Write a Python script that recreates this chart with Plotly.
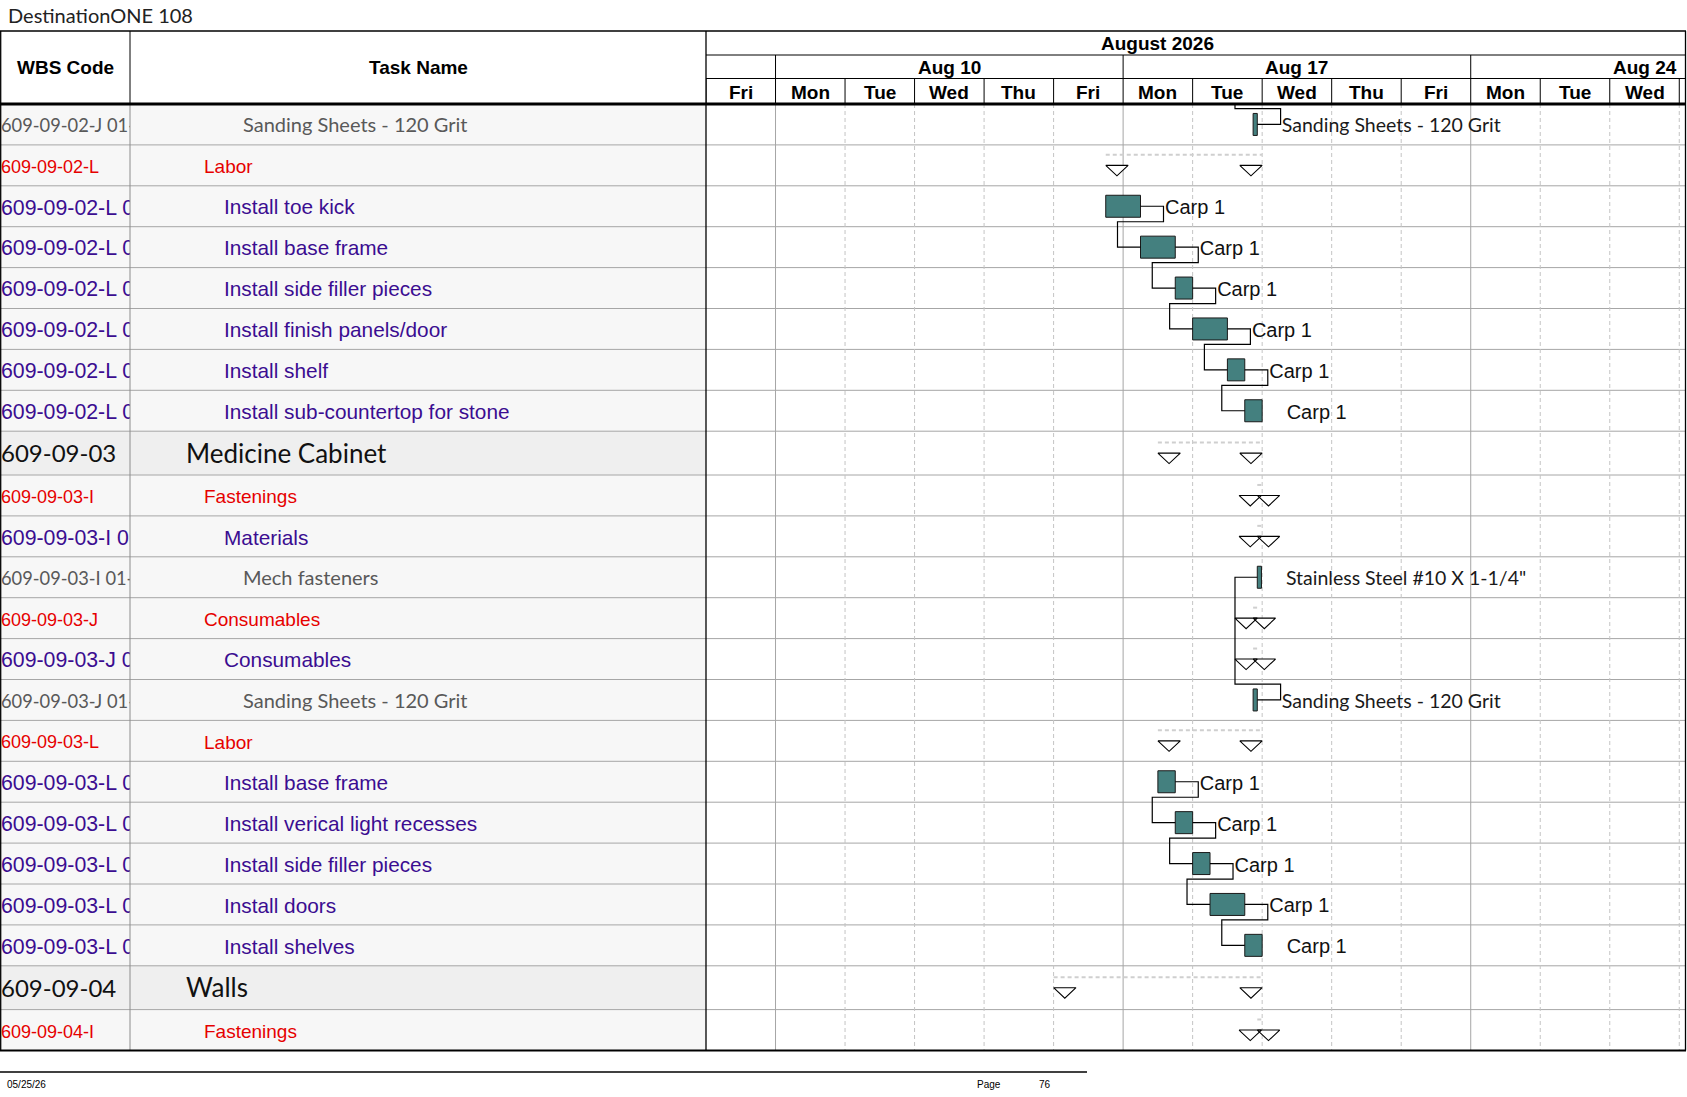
import plotly.graph_objects as go

# ---------------- data ----------------
title_text = "DestinationONE 108"
header_wbs = "WBS Code"
header_task = "Task Name"
month_label = "August 2026"
week_labels = ["Aug 10", "Aug 17", "Aug 24"]
week_start_idx = [1, 6, 11]
day_labels = ["Fri", "Mon", "Tue", "Wed", "Thu", "Fri", "Mon", "Tue", "Wed", "Thu",
              "Fri", "Mon", "Tue", "Wed"]
footer_date = "05/25/26"
footer_page_label = "Page"
footer_page_no = "76"

wbs_codes = [
    "609-09-02-J 01-01", "609-09-02-L", "609-09-02-L 01", "609-09-02-L 02",
    "609-09-02-L 03", "609-09-02-L 04", "609-09-02-L 05", "609-09-02-L 06",
    "609-09-03", "609-09-03-I", "609-09-03-I 01", "609-09-03-I 01-01",
    "609-09-03-J", "609-09-03-J 01", "609-09-03-J 01-01", "609-09-03-L",
    "609-09-03-L 01", "609-09-03-L 02", "609-09-03-L 03", "609-09-03-L 04",
    "609-09-03-L 05", "609-09-04", "609-09-04-I",
]
task_names = [
    "Sanding Sheets - 120 Grit", "Labor", "Install toe kick", "Install base frame",
    "Install side filler pieces", "Install finish panels/door", "Install shelf",
    "Install sub-countertop for stone", "Medicine Cabinet", "Fastenings", "Materials",
    "Mech fasteners", "Consumables", "Consumables", "Sanding Sheets - 120 Grit",
    "Labor", "Install base frame", "Install verical light recesses",
    "Install side filler pieces", "Install doors", "Install shelves", "Walls",
    "Fastenings",
]
row_levels = [4, 2, 3, 3, 3, 3, 3, 3, 1, 2, 3, 4, 2, 3, 4, 2, 3, 3, 3, 3, 3, 1, 2]
row_kind = ["task", "sum", "task", "task", "task", "task", "task", "task",
            "sum", "sum", "sum", "task", "sum", "sum", "task", "sum",
            "task", "task", "task", "task", "task", "sum", "sum"]
# working-day index: 0 = Fri Aug 7, 1 = Mon Aug 10, ...
start_day = [7.87, 5.75, 5.75, 6.25, 6.75, 7.0, 7.5, 7.75,
             6.5, 7.93, 7.93, 7.93, 7.87, 7.87, 7.87, 6.5,
             6.5, 6.75, 7.0, 7.25, 7.75, 5.0, 7.93]
end_day = [7.93, 8.0, 6.25, 6.75, 7.0, 7.5, 7.75, 8.0,
           8.0, 7.99, 7.99, 7.99, 7.93, 7.93, 7.93, 8.0,
           6.75, 7.0, 7.25, 7.75, 8.0, 8.0, 7.99]
bar_labels = ["Sanding Sheets - 120 Grit", "", "Carp 1", "Carp 1", "Carp 1", "Carp 1",
              "Carp 1", "Carp 1", "", "", "", "Stainless Steel #10 X 1-1/4\"", "", "",
              "Sanding Sheets - 120 Grit", "", "Carp 1", "Carp 1", "Carp 1", "Carp 1",
              "Carp 1", "", ""]
fs_links = [(2, 3), (3, 4), (4, 5), (5, 6), (6, 7), (16, 17), (17, 18), (18, 19), (19, 20)]
sf_links = [(-1, 0), (11, 14)]          # -1 = predecessor on previous page
offpage_pred_start = 7.93

# ---------------- style / geometry ----------------
W, H = 1687, 1097
X_WBS_END, X_CHART0, X_CHART1 = 130, 706, 1686
DAY_PX = 69.52
Y_TOP, Y_WEEK, Y_DAY, Y_BODY = 31, 55, 78.5, 104
ROW_H, ROW_H_SUM = 40.9, 43.8
BAR_H = 22
TRI_HW, TRI_H = 11.2, 10.5
LINK_OUT, LINK_DROP, SF_DROP = 23.0, 15.5, 4.6
LABEL_GAP = 24.5
TEXT_DY = 3.0

ARIAL = "Liberation Sans, Arial, sans-serif"
CAL = "Lato, sans-serif"
TEAL = "#44807f"
PURPLE = "#3b0d91"
RED = "#e60000"
GRAY_TXT = "#595959"
GRID = "#a6a6a6"
DASH_GRID = "#c4c4c4"

level_style = {
    1: dict(cfont=CAL, csize=24, nfont=CAL, nsize=26, color="#111111", indent=186, bg="#efefef"),
    2: dict(cfont=ARIAL, csize=18, nfont=ARIAL, nsize=19, color=RED, indent=204, bg="#f7f7f7"),
    3: dict(cfont=ARIAL, csize=21.3, nfont=ARIAL, nsize=20.8, color=PURPLE, indent=224, bg="#f7f7f7"),
    4: dict(cfont=CAL, csize=18.3, nfont=CAL, nsize=20, color=GRAY_TXT, indent=243, bg="#f7f7f7"),
}

row_h = [ROW_H_SUM if lv == 1 else ROW_H for lv in row_levels]
row_top = []
acc = 0.0
for h in row_h:
    row_top.append(acc)
    acc += h
body_h = acc
row_c = [t + h / 2 for t, h in zip(row_top, row_h)]
x_max = (X_CHART1 - X_CHART0) / DAY_PX


def dpx(p):
    return p / DAY_PX


def py(p):  # figure pixel y -> paper
    return 1 - p / H


def pxp(p):  # figure pixel x -> paper
    return p / W


def center_of(r):
    return row_c[r] if r >= 0 else -ROW_H / 2


def top_of(r):
    return row_top[r] if r >= 0 else -ROW_H


fig = go.Figure()

# ---------- bars ----------
ti = [i for i, k in enumerate(row_kind) if k == "task"]
fig.add_trace(go.Bar(
    orientation="h",
    y=[row_c[i] for i in ti],
    x=[end_day[i] - start_day[i] for i in ti],
    base=[start_day[i] for i in ti],
    width=BAR_H,
    marker=dict(color=TEAL, line=dict(color="#1a1a1a", width=1)),
    xaxis="x", yaxis="y", hoverinfo="skip", showlegend=False,
))

# ---------- summary dashed lines ----------
sx, sy = [], []
for i, k in enumerate(row_kind):
    if k == "sum":
        sx += [start_day[i], end_day[i], None]
        sy += [row_c[i] - 10.5, row_c[i] - 10.5, None]
fig.add_trace(go.Scatter(x=sx, y=sy, mode="lines",
                         line=dict(color="#cfcfcf", width=2, dash="4px,3px"),
                         xaxis="x", yaxis="y", hoverinfo="skip", showlegend=False))

# ---------- links ----------
lx, ly = [], []
for a, b in fs_links:
    xo = end_day[a] + dpx(LINK_OUT)
    xi = start_day[b] - dpx(LINK_OUT)
    yd = row_c[a] + LINK_DROP
    lx += [end_day[a], xo, xo, xi, xi, start_day[b], None]
    ly += [row_c[a], row_c[a], yd, yd, row_c[b], row_c[b], None]
for a, b in sf_links:
    ps = start_day[a] if a >= 0 else offpage_pred_start
    xo = ps - dpx(LINK_OUT - 0.7)
    xi = end_day[b] + dpx(LINK_OUT + 0.3)
    yd = top_of(b) + SF_DROP
    lx += [ps, xo, xo, xi, xi, end_day[b], None]
    ly += [center_of(a), center_of(a), yd, yd, row_c[b], row_c[b], None]
fig.add_trace(go.Scatter(x=lx, y=ly, mode="lines", line=dict(color="black", width=1.2),
                         xaxis="x", yaxis="y", hoverinfo="skip", showlegend=False))

# ---------- summary triangles ----------
tx, ty = [], []
for i, k in enumerate(row_kind):
    if k == "sum":
        for c in (start_day[i] + dpx(TRI_HW), end_day[i] - dpx(TRI_HW)):
            tx += [c - dpx(TRI_HW), c + dpx(TRI_HW), c, c - dpx(TRI_HW), None]
            ty += [row_c[i], row_c[i], row_c[i] + TRI_H, row_c[i], None]
fig.add_trace(go.Scatter(x=tx, y=ty, mode="lines", fill="toself", fillcolor="white",
                         line=dict(color="black", width=1.1),
                         xaxis="x", yaxis="y", hoverinfo="skip", showlegend=False))

# ---------- bar labels ----------
for lv, fam, size, col in [(3, ARIAL, 20, "#111111"), (4, CAL, 19.5, "#1a1a1a")]:
    idx = [i for i in ti if row_levels[i] == lv and bar_labels[i]]
    fig.add_trace(go.Scatter(
        x=[end_day[i] + dpx(LABEL_GAP) for i in idx], y=[row_c[i] + TEXT_DY for i in idx],
        text=[bar_labels[i] for i in idx], mode="text", textposition="middle right",
        textfont=dict(family=fam, size=size, color=col), cliponaxis=False,
        xaxis="x", yaxis="y", hoverinfo="skip", showlegend=False))

# ---------- table text ----------
for lv, st in level_style.items():
    idx = [i for i, l in enumerate(row_levels) if l == lv]
    fig.add_trace(go.Scatter(
        x=[1] * len(idx), y=[row_c[i] + TEXT_DY for i in idx], text=[wbs_codes[i] for i in idx],
        mode="text", textposition="middle right", cliponaxis=True,
        textfont=dict(family=st["cfont"], size=st["csize"], color=st["color"]),
        xaxis="x2", yaxis="y", hoverinfo="skip", showlegend=False))
    fig.add_trace(go.Scatter(
        x=[st["indent"] - X_WBS_END] * len(idx), y=[row_c[i] + TEXT_DY for i in idx],
        text=[task_names[i] for i in idx],
        mode="text", textposition="middle right", cliponaxis=True,
        textfont=dict(family=st["nfont"], size=st["nsize"], color=st["color"]),
        xaxis="x3", yaxis="y", hoverinfo="skip", showlegend=False))

# ---------- shapes ----------
shapes = []
# table backgrounds
for i, lv in enumerate(row_levels):
    shapes.append(dict(type="rect", xref="paper", yref="y", x0=0, x1=pxp(X_CHART0),
                       y0=row_top[i], y1=row_top[i] + row_h[i],
                       fillcolor=level_style[lv]["bg"], line=dict(width=0), layer="below"))
# chart vertical gridlines
for d in range(1, len(day_labels) + 1):
    solid = d in week_start_idx
    shapes.append(dict(type="line", xref="x", yref="y", x0=d, x1=d, y0=0, y1=body_h,
                       line=dict(color=GRID if solid else DASH_GRID, width=1,
                                 dash="solid" if solid else "4px,3px"), layer="below"))
# row lines
for t in row_top[1:]:
    shapes.append(dict(type="line", xref="paper", yref="y", x0=0, x1=pxp(X_CHART1),
                       y0=t, y1=t, line=dict(color=GRID, width=1), layer="below"))
# WBS / task divider in body
shapes.append(dict(type="line", xref="paper", yref="paper", x0=pxp(X_WBS_END), x1=pxp(X_WBS_END),
                   y0=py(Y_BODY), y1=py(Y_BODY + body_h), line=dict(color="#8c8c8c", width=1)))
# header lines
shapes.append(dict(type="line", xref="paper", yref="paper", x0=0, x1=pxp(X_CHART1),
                   y0=py(Y_TOP), y1=py(Y_TOP), line=dict(color="black", width=1.5)))
for yy in (Y_WEEK, Y_DAY):
    shapes.append(dict(type="line", xref="paper", yref="paper", x0=pxp(X_CHART0), x1=pxp(X_CHART1),
                       y0=py(yy), y1=py(yy), line=dict(color="black", width=1)))
for d in range(0, len(day_labels) + 1):
    shapes.append(dict(type="line", xref="x", yref="paper", x0=d, x1=d,
                       y0=py(Y_DAY), y1=py(Y_BODY), line=dict(color="black", width=1)))
for d in week_start_idx:
    shapes.append(dict(type="line", xref="x", yref="paper", x0=d, x1=d,
                       y0=py(Y_WEEK), y1=py(Y_DAY), line=dict(color="black", width=1)))
shapes.append(dict(type="line", xref="paper", yref="paper", x0=pxp(X_WBS_END), x1=pxp(X_WBS_END),
                   y0=py(Y_TOP), y1=py(Y_BODY), line=dict(color="black", width=1)))
for xx in (0.7, X_CHART0, X_CHART1 - 0.5):
    shapes.append(dict(type="line", xref="paper", yref="paper", x0=pxp(xx), x1=pxp(xx),
                       y0=py(Y_TOP), y1=py(Y_BODY + body_h), line=dict(color="black", width=1.3)))
shapes.append(dict(type="line", xref="paper", yref="paper", x0=0, x1=pxp(X_CHART1),
                   y0=py(Y_BODY), y1=py(Y_BODY), line=dict(color="black", width=3)))
shapes.append(dict(type="line", xref="paper", yref="paper", x0=0, x1=pxp(X_CHART1),
                   y0=py(Y_BODY + body_h), y1=py(Y_BODY + body_h), line=dict(color="black", width=2)))
# footer line
shapes.append(dict(type="line", xref="paper", yref="paper", x0=0, x1=pxp(1087),
                   y0=py(1072), y1=py(1072), line=dict(color="black", width=1.5)))

# ---------- annotations ----------
HDR = dict(family=ARIAL, size=19, color="black")


def note(text, x, y, font, xref="paper", xanchor="center", xshift=0):
    return dict(text=text, xref=xref, yref="paper", x=x, y=y, xanchor=xanchor,
                yanchor="middle", xshift=xshift, showarrow=False, font=font)


ann = []
ann.append(note(title_text, pxp(6), py(15), dict(family=CAL, size=20, color="#222222"),
                xanchor="left"))
ann.append(note("<b>%s</b>" % header_wbs, pxp(X_WBS_END / 2), py((Y_TOP + Y_BODY) / 2), HDR))
ann.append(note("<b>%s</b>" % header_task, pxp((X_WBS_END + X_CHART0) / 2),
                py((Y_TOP + Y_BODY) / 2), HDR))
ann.append(note("<b>%s</b>" % month_label, 6.5, py((Y_TOP + Y_WEEK) / 2 + 1), HDR, xref="x"))
for lab, s in zip(week_labels, week_start_idx):
    e = s + 5
    if e <= x_max:
        ann.append(note("<b>%s</b>" % lab, (s + e) / 2, py((Y_WEEK + Y_DAY) / 2 + 0.5), HDR, xref="x"))
    else:
        ann.append(note("<b>%s</b>" % lab, x_max, py((Y_WEEK + Y_DAY) / 2 + 0.5), HDR, xref="x",
                        xanchor="right", xshift=-7))
for d, lab in enumerate(day_labels):
    ann.append(note("<b>%s</b>" % lab, d + 0.5, py((Y_DAY + Y_BODY) / 2 + 1), HDR, xref="x"))
FOOT = dict(family=ARIAL, size=10, color="black")
ann.append(note(footer_date, pxp(5), py(1084), FOOT, xanchor="left"))
ann.append(note(footer_page_label, pxp(975), py(1084), FOOT, xanchor="left"))
ann.append(note(footer_page_no, pxp(1037), py(1084), FOOT, xanchor="left"))

fig.update_layout(
    width=W, height=H, margin=dict(l=0, r=0, t=0, b=0),
    paper_bgcolor="white", plot_bgcolor="rgba(0,0,0,0)",
    showlegend=False, hovermode=False, barmode="overlay",
    shapes=shapes, annotations=ann,
    xaxis=dict(domain=[pxp(X_CHART0), pxp(X_CHART1)], range=[0, x_max], visible=False,
               fixedrange=True, anchor="y"),
    xaxis2=dict(domain=[0, pxp(X_WBS_END)], range=[0, X_WBS_END], visible=False, anchor="y"),
    xaxis3=dict(domain=[pxp(X_WBS_END), pxp(X_CHART0)], range=[0, X_CHART0 - X_WBS_END],
                visible=False, anchor="y"),
    yaxis=dict(domain=[py(Y_BODY + body_h), py(Y_BODY)], range=[body_h, 0], visible=False,
               anchor="x"),
)

fig.write_html("out.html", config={"displayModeBar": False},
               post_script="document.body.style.margin='0';document.body.style.overflow='hidden';")
